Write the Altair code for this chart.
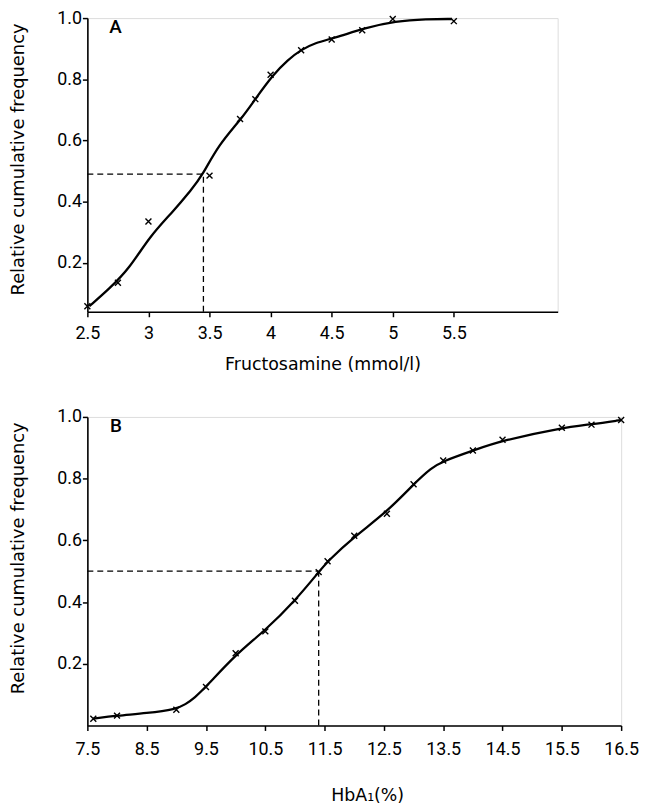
import altair as alt
import pandas as pd

# ---------------- Panel A : Fructosamine ----------------
a_pts_x = [2.5, 2.75, 3.0, 3.5, 3.75, 3.875, 4.0, 4.25, 4.5, 4.75, 5.0, 5.5]
a_pts_y = [0.058, 0.135, 0.335, 0.485, 0.67, 0.735, 0.815, 0.895, 0.93, 0.96, 0.997, 0.99]
a_curve_x = [2.516, 2.679, 2.841, 3.012, 3.191, 3.354, 3.443, 3.573, 3.76, 3.874,
             4.02, 4.142, 4.248, 4.362, 4.524, 4.776, 5.02, 5.28, 5.484]
a_curve_y = [0.058, 0.115, 0.18, 0.287, 0.363, 0.44, 0.487, 0.585, 0.67, 0.735,
             0.815, 0.864, 0.896, 0.919, 0.935, 0.968, 0.99, 0.997, 0.997]
a_median_x = 3.45
a_median_y = 0.49
a_ticks = [2.5, 3, 3.5, 4, 4.5, 5, 5.5]
a_xdomain = [2.5, 6.35]
a_ydomain = [0.04, 1.0]

# ---------------- Panel B : HbA1 ----------------
b_pts_x = [7.6, 8.0, 9.0, 9.5, 10.0, 10.5, 11.0, 11.4, 11.55, 12.0, 12.55, 13.0,
           13.5, 14.0, 14.5, 15.5, 16.0, 16.5]
b_pts_y = [0.022, 0.032, 0.051, 0.125, 0.234, 0.305, 0.404, 0.497, 0.532, 0.615,
           0.686, 0.782, 0.859, 0.891, 0.926, 0.965, 0.975, 0.99]
b_curve_x = [7.6, 8.0, 8.5, 9.0, 9.15, 9.31, 9.5, 10.0, 10.5, 11.0, 11.4, 11.55,
             12.0, 12.55, 13.0, 13.3, 13.5, 14.0, 14.5, 15.5, 16.0, 16.5]
b_curve_y = [0.022, 0.032, 0.04, 0.053, 0.068, 0.09, 0.125, 0.23, 0.308, 0.404,
             0.497, 0.532, 0.612, 0.692, 0.782, 0.835, 0.857, 0.891, 0.924, 0.965,
             0.976, 0.99]
b_median_x = 11.4
b_median_y = 0.5
b_ticks = [7.5, 8.5, 9.5, 10.5, 11.5, 12.5, 13.5, 14.5, 15.5, 16.5]
b_xdomain = [7.5, 16.5]
b_ydomain = [0.0, 1.0]

y_ticks = [0.2, 0.4, 0.6, 0.8, 1.0]
y_title = "Relative cumulative frequency"
a_xtitle = "Fructosamine (mmol/l)"
b_xtitle = "HbA\u2081(%)"
panel_letters = ["A", "B"]
letter_pos_a = (2.73, 0.97)
letter_pos_b = (7.98, 0.97)

LABEL_FONT = "Roboto"
TITLE_FONT = "DejaVu Sans"
X_SHAPE = "M-1,-1L1,1M-1,1L1,-1"


def make_panel(curve_x, curve_y, pts_x, pts_y, med_x, med_y, ticks, xdom, ydom,
               xtitle, letter, letter_pos, width, height, label_pad, title_pad,
               xtitle_x=None):
    xaxis_kw = dict(
        values=ticks, title=xtitle, labelExpr="'' + datum.value", labelFlush=False,
        labelFont=LABEL_FONT, labelFontSize=18, labelPadding=label_pad,
        titleFont=TITLE_FONT, titleFontSize=17.5, titleFontWeight="normal",
        titlePadding=title_pad, tickSize=5, tickWidth=1.5, domainWidth=1.6,
        domainColor="black", tickColor="black", labelColor="black",
        titleColor="black", grid=False,
    )
    if xtitle_x is not None:
        xaxis_kw["titleX"] = xtitle_x
    xaxis = alt.Axis(**xaxis_kw)
    yaxis = alt.Axis(
        values=y_ticks, format=".1f", title=y_title, labelFlush=False,
        labelFont=LABEL_FONT, labelFontSize=18, labelPadding=1,
        titleFont=TITLE_FONT, titleFontSize=18, titleFontWeight="normal",
        titlePadding=29, titleY=142, tickSize=5, tickWidth=1.5, domainWidth=1.6,
        domainColor="black", tickColor="black", labelColor="black",
        titleColor="black", grid=False,
    )
    xs = alt.Scale(domain=xdom, nice=False, zero=False)
    ys = alt.Scale(domain=ydom, nice=False, zero=False)

    curve_df = pd.DataFrame({"x": curve_x, "y": curve_y})
    pts_df = pd.DataFrame({"x": pts_x, "y": pts_y})
    hline_df = pd.DataFrame({"x": [xdom[0]], "x2": [med_x], "y": [med_y]})
    vline_df = pd.DataFrame({"x": [med_x], "y": [ydom[0]], "y2": [med_y]})
    letter_df = pd.DataFrame({"x": [letter_pos[0]], "y": [letter_pos[1]], "t": [letter]})

    X = alt.X("x:Q", scale=xs, axis=xaxis)
    Y = alt.Y("y:Q", scale=ys, axis=yaxis)

    curve = alt.Chart(curve_df).mark_line(
        color="black", strokeWidth=2.3, interpolate="basis"
    ).encode(x=X, y=Y)
    pts = alt.Chart(pts_df).mark_point(
        shape=X_SHAPE, filled=False, color="black", strokeWidth=1.4, size=36, opacity=1
    ).encode(x=X, y=Y)
    hline = alt.Chart(hline_df).mark_rule(
        color="black", strokeWidth=1.3, strokeDash=[6, 4]
    ).encode(x=X, x2="x2:Q", y=Y)
    vline = alt.Chart(vline_df).mark_rule(
        color="black", strokeWidth=1.3, strokeDash=[6, 4]
    ).encode(x=X, y=Y, y2="y2:Q")
    txt = alt.Chart(letter_df).mark_text(
        font=LABEL_FONT, fontSize=19, fontWeight=500, color="black"
    ).encode(x=X, y=Y, text="t:N")

    return alt.layer(hline, vline, curve, pts, txt).properties(width=width, height=height)


panel_a = make_panel(a_curve_x, a_curve_y, a_pts_x, a_pts_y, a_median_x, a_median_y,
                     a_ticks, a_xdomain, a_ydomain, a_xtitle, panel_letters[0],
                     letter_pos_a, 474, 296, 8, 13)

panel_b = make_panel(b_curve_x, b_curve_y, b_pts_x, b_pts_y, b_median_x, b_median_y,
                     b_ticks, b_xdomain, b_ydomain, b_xtitle, panel_letters[1],
                     letter_pos_b, 538, 311, 10, 29, xtitle_x=282)

chart = alt.vconcat(panel_a, panel_b, spacing=34).properties(
    padding={"left": 1, "top": -3, "right": 0, "bottom": 0}
).configure_view(stroke=None).configure(background="white")

chart.save("out.html", embed_options={"renderer": "svg", "actions": False})
